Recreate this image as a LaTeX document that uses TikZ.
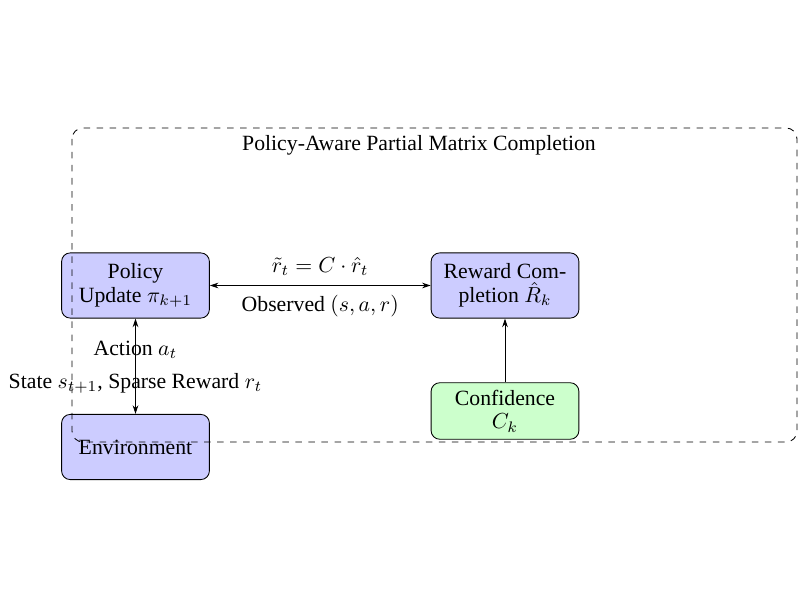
\documentclass[tikz,border=0pt]{standalone}
\usepackage[no-math]{fontspec}
\setmainfont{Liberation Serif}
\usetikzlibrary{arrows.meta}
\begin{document}
\begin{tikzpicture}[x=0.46pt,y=-0.46pt,
  box/.style={draw, rounded corners=4pt, align=center, minimum width=68pt, inner sep=2pt},
  bluebox/.style={box, fill=blue!20},
  greenbox/.style={box, fill=green!20},
  arr/.style={-{Stealth[length=4pt,width=2.6pt]}},
  darr/.style={{Stealth[length=4pt,width=2.6pt]}-{Stealth[length=4pt,width=2.6pt]}}
]
\useasboundingbox (0,0) rectangle (800,600);
\node (title) at (419,145) {Policy-Aware Partial Matrix Completion};
\node[bluebox, minimum height=30pt] (policy) at (135.5,285.5) {Policy\\[-1pt]Update $\pi_{k+1}$};
\node[bluebox, minimum height=30pt] (reward) at (505,285.5) {Reward Com-\\[-1pt]pletion $\hat{R}_k$};
\node[greenbox, minimum height=26pt] (conf) at (505,411) {Confidence\\[-1pt]$C_k$};
\node[bluebox, minimum height=30pt] (env) at (135.5,447) {Environment};
\draw[darr] (policy) -- node[above=1pt] (lab1) {$\tilde{r}_t = C\cdot\hat{r}_t$} node[below=1pt] (lab2) {Observed $(s,a,r)$} (reward);
\draw[darr] (policy) -- (env);
\node (act) at (135.5,350) {Action $a_t$};
\node (state) at (135.5,383) {State $s_{t+1}$, Sparse Reward $r_t$};
\draw[arr] (conf) -- (reward);
\draw[dashed, rounded corners=5pt] (72,128) rectangle (797,442);
\end{tikzpicture}
\end{document}
